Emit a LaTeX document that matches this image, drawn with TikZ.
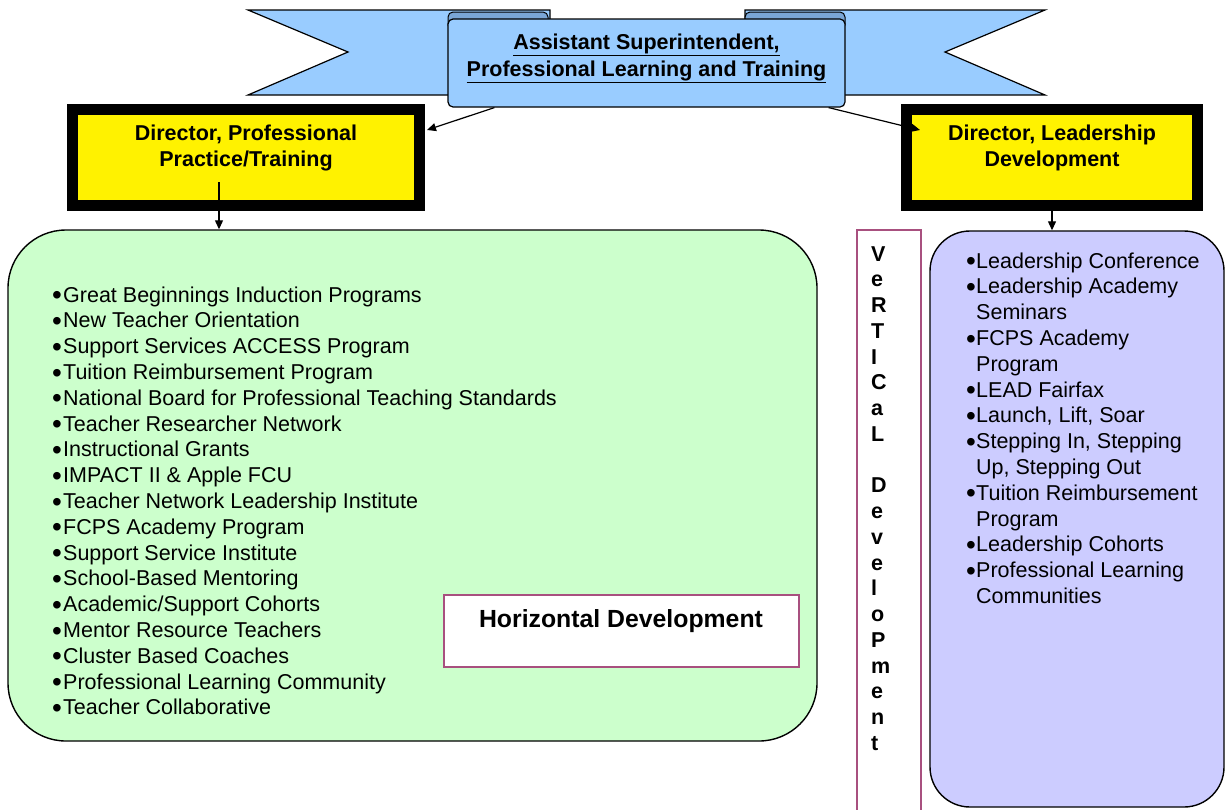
\documentclass[tikz,border=0pt]{standalone}
\usepackage{fontspec}
\setmainfont{Liberation Sans}
\usetikzlibrary{arrows.meta,positioning,calc}
\definecolor{bannerblue}{HTML}{99CCFF}
\definecolor{curlblue}{HTML}{7AA6D6}
\definecolor{greenfill}{HTML}{CCFFCC}
\definecolor{lilac}{HTML}{CCCCFF}
\definecolor{framered}{HTML}{A8507F}
\newcommand{\dotmark}{\raisebox{-2.6pt}{\scalebox{1.3}{\textbullet}}}

\begin{document}
\begin{tikzpicture}
	[ x=1pt, y=-1pt, >={Triangle[length=9pt,width=8pt]},
	  band/.style={ draw=black, line width=1.2pt, fill=bannerblue },
	  curl/.style={ draw=black, line width=1pt, fill=curlblue, rounded corners=5pt },
	  bantext/.style={ font=\fontsize{21.5}{25}\selectfont\bfseries, anchor=base, inner sep=0pt },
	  dirbox/.style={ draw=black, line width=11pt, fill=yellow, minimum width=#1,
	                  minimum height=96pt, inner sep=0pt },
	  dirtext/.style={ font=\fontsize{21.5}{25}\selectfont\bfseries, anchor=base, inner sep=0pt },
	  plate/.style={ draw=black, line width=1.4pt, inner sep=0pt, rounded corners=#1 },
	  hframe/.style={ draw=framered, line width=1.2pt, fill=white, inner sep=0pt },
	  listline/.style={ font=\fontsize{21.5}{24}\selectfont, anchor=base west, inner sep=0pt },
	  vlet/.style={ font=\fontsize{21.5}{24}\selectfont\bfseries, anchor=base west, inner sep=0pt },
	  link/.style={ ->, line width=1.2pt }
	]
	\useasboundingbox (0,0) rectangle (1225,809);

	% banner
	\draw[band] (248,10) -- (550,10) -- (550,95) -- (248,95) -- (348,52) -- cycle;
	\draw[band] (1045,10) -- (745,10) -- (745,95) -- (1045,95) -- (945,52) -- cycle;
	\draw[curl] (448,12) rectangle (548,30);
	\draw[curl] (745,12) rectangle (845,30);
	\node[band, rounded corners=5pt, minimum width=397pt, minimum height=88pt, inner sep=0pt]
		(asst) at (646.5,63) {};
	\node[bantext] (asst1) at (646.5,49) {\underline{Assistant Superintendent,}};
	\node[bantext] (asst2) at (646.5,76) {\underline{Professional Learning and Training}};

	% directors
	\node[dirbox=347pt] (dirprac) at (246,157.5) {};
	\node[dirtext] (prac1) at (246,140) {Director, Professional};
	\node[dirtext] (prac2) at (246,166) {Practice/Training};
	\node[dirbox=291pt] (dirlead) at (1052,157.5) {};
	\node[dirtext] (lead1) at (1052,140) {Director, Leadership};
	\node[dirtext] (lead2) at (1052,166) {Development};

	% program panels
	\node[plate=58pt, fill=greenfill, minimum width=809pt, minimum height=511pt] (practice) at (412.5,485.5) {};
	\node[plate=40pt, fill=lilac, minimum width=294pt, minimum height=576pt] (leadership) at (1077,519) {};
	\node[hframe, minimum width=64pt, minimum height=590pt] (vertical) at (889,525) {};
	\node[hframe, minimum width=355pt, minimum height=72pt] (horizontal) at (621.5,631) {};
	\node[font=\fontsize{24.8}{28}\selectfont\bfseries, anchor=base, inner sep=0pt]
		(horiztext) at (621,627) {Horizontal Development};

	% links
	\coordinate (pracfoot) at (219,182);
	\draw[link] ([xshift=47pt]asst.south west) -- ([xshift=2pt,yshift=-26pt]dirprac.north east);
	\draw[link] ([xshift=-17pt]asst.south east) -- ([xshift=19pt,yshift=-26pt]dirlead.north west);
	\draw[link] (pracfoot) -- (pracfoot |- practice.north);
	\draw[link] (dirlead.south) -- (dirlead.south |- leadership.north);

	\foreach \txt [count=\k from 0] in {Great Beginnings Induction Programs, New Teacher Orientation,
		Support Services ACCESS Program, Tuition Reimbursement Program,
		National Board for Professional Teaching Standards, Teacher Researcher Network,
		Instructional Grants, IMPACT II \& Apple FCU, Teacher Network Leadership Institute,
		FCPS Academy Program, Support Service Institute, School-Based Mentoring,
		Academic/Support Cohorts, Mentor Resource Teachers, Cluster Based Coaches,
		Professional Learning Community, Teacher Collaborative}{
		\node[listline] (pracitem\k) at (52,302+25.8*\k) {\makebox[11pt][l]{\dotmark}\txt};
	}
	\foreach \b/\txt [count=\k from 0] in {1/Leadership Conference, 1/Leadership Academy, 0/Seminars,
		1/FCPS Academy, 0/Program, 1/LEAD Fairfax, 1/{Launch, Lift, Soar},
		1/{Stepping In, Stepping}, 0/{Up, Stepping Out}, 1/Tuition Reimbursement, 0/Program,
		1/Leadership Cohorts, 1/Professional Learning, 0/Communities}{
		\node[listline] (leaditem\k) at (966,268+25.8*\k) {\makebox[10pt][l]{\ifnum\b=1 \dotmark\fi}\txt};
	}
	\foreach \ch/\k in {V/0,e/1,R/2,T/3,I/4,C/5,a/6,L/7,D/9,e/10,v/11,e/12,l/13,o/14,P/15,m/16,e/17,n/18,t/19}{
		\node[vlet] (vert\k) at (871,261+25.75*\k) {\ch};
	}
\end{tikzpicture}
\end{document}
